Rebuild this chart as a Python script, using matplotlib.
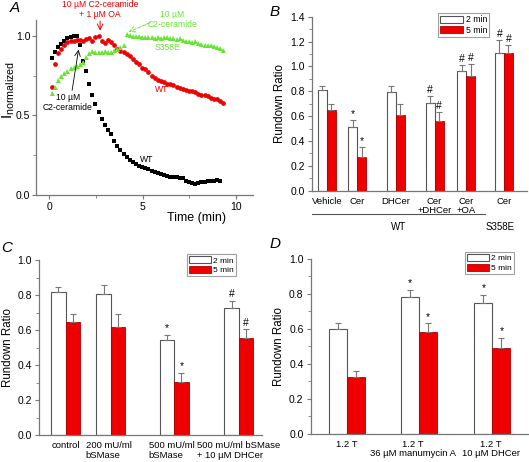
import numpy as np
import matplotlib
matplotlib.use('Agg')
import matplotlib.pyplot as plt
from matplotlib.patches import Patch
from matplotlib.transforms import blended_transform_factory

plt.rcParams['font.family'] = ['Liberation Sans', 'DejaVu Sans']
plt.rcParams['mathtext.default'] = 'regular'

# ---- panel A : normalized current, sampled every 10 s from t = 0.15 min
t_start = 0.15
t_step = 1 / 6
wt_cer = [0.86, 0.90, 0.93, 0.95, 0.97, 0.985, 0.995, 1.0, 1.0, 0.94,
          0.84, 0.78, 0.70, 0.63, 0.57, 0.52, 0.48, 0.44, 0.41, 0.38,
          0.34, 0.31, 0.28, 0.26, 0.24, 0.22, 0.21, 0.195, 0.185, 0.175,
          0.17, 0.16, 0.15, 0.145, 0.14, 0.13, 0.125, 0.12, 0.115, 0.11,
          0.11, 0.105, 0.105, 0.09, 0.08, 0.075, 0.07, 0.075, 0.08, 0.08,
          0.085, 0.09, 0.09, 0.095, 0.09]
wt_cer_oa = [0.68, 0.82, 0.89, 0.92, 0.945, 0.96, 0.965, 0.97, 0.975, 0.975,
             0.97, 0.98, 0.985, 0.97, 0.99, 1.0, 0.97, 0.955, 0.975, 0.96,
             0.94, 0.915, 0.905, 0.895, 0.885, 0.87, 0.855, 0.835, 0.82, 0.80,
             0.79, 0.77, 0.75, 0.735, 0.72, 0.715, 0.71, 0.70, 0.695, 0.69,
             0.68, 0.675, 0.665, 0.66, 0.655, 0.65, 0.645, 0.635, 0.63, 0.625,
             0.62, 0.61, 0.605, 0.60, 0.59, 0.58]
s358e_cer = [0.64, 0.68, 0.72, 0.745, 0.765, 0.78, 0.795, 0.805, 0.81, 0.82,
             0.835, 0.865, 0.89, 0.905, 0.90, 0.895, 0.90, 0.905, 0.895, 0.90,
             0.91, 0.92, 0.93, 0.94, 1.01, 1.005, 1.0, 1.0, 1.0, 0.995,
             0.99, 0.995, 0.99, 0.985, 0.99, 0.985, 0.99, 0.99, 0.985, 0.985,
             0.98, 0.985, 0.975, 0.965, 0.97, 0.96, 0.965, 0.955, 0.95, 0.945,
             0.94, 0.94, 0.935, 0.93, 0.925, 0.91]

# ---- panel B
b_labels = ['Vehicle', 'Cer', 'DHCer', 'Cer\n+DHCer', 'Cer\n+OA', 'Cer']
b_pos = [1.63, 5.0, 9.3, 13.6, 17.15, 21.3]
b_2min = [0.81, 0.51, 0.795, 0.705, 0.96, 1.11]
b_2min_err = [0.03, 0.06, 0.045, 0.055, 0.05, 0.10]
b_5min = [0.65, 0.27, 0.61, 0.565, 0.92, 1.11]
b_5min_err = [0.045, 0.08, 0.085, 0.065, 0.10, 0.06]
b_marks = ['', '*', '', '#', '#', '#']

# ---- panel C
c_labels = ['control', '200 mU/ml\nbSMase', '500 mU/ml\nbSMase',
            '500 mU/ml bSMase\n+ 10 \u00b5M DHCer']
c_pos = [1.82, 4.94, 9.31, 13.77]
c_2min = [0.815, 0.804, 0.543, 0.728]
c_2min_err = [0.033, 0.053, 0.032, 0.038]
c_5min = [0.648, 0.619, 0.305, 0.556]
c_5min_err = [0.047, 0.071, 0.051, 0.048]
c_marks = ['', '', '*', '#']

# ---- panel D
d_labels = ['1.2 T', '1.2 T\n36 \u00b5M manumycin A', '1.2 T\n10 \u00b5M DHCer']
d_pos = [2.03, 6.03, 10.1]
d_2min = [0.597, 0.779, 0.745]
d_2min_err = [0.034, 0.042, 0.048]
d_5min = [0.327, 0.58, 0.492]
d_5min_err = [0.029, 0.051, 0.054]
d_marks = ['', '*', '*']

RED = '#ee0000'
GREEN = '#66e633'
SPINE = '#777777'

fig = plt.figure(figsize=(5.29, 4.62), dpi=100)


def style(ax):
    for s in ['top', 'right']:
        ax.spines[s].set_visible(False)
    for s in ['left', 'bottom']:
        ax.spines[s].set_color(SPINE)
        ax.spines[s].set_linewidth(0.9)
    ax.tick_params(which='both', direction='out', color=SPINE, labelsize=7.5, pad=2)
    ax.tick_params(which='major', length=3)
    ax.tick_params(which='minor', length=2)


def bars(ax, pos, v2, e2, v5, e5, marks, w, xmax):
    pos = np.array(pos)
    ax.bar(pos - w / 2, v2, w, color='white', edgecolor='#555555', lw=0.8, zorder=2)
    ax.bar(pos + w / 2, v5, w, color=RED, edgecolor='#b00000', lw=0.6, zorder=2)
    ax.errorbar(pos - w / 2, v2, yerr=[np.zeros(len(v2)), e2], fmt='none',
                ecolor='#777777', elinewidth=0.8, capsize=2, capthick=0.8, zorder=3)
    ax.errorbar(pos + w / 2, v5, yerr=[np.zeros(len(v5)), e5], fmt='none',
                ecolor='#777777', elinewidth=0.8, capsize=2, capthick=0.8, zorder=3)
    for i, m in enumerate(marks):
        if m:
            ax.text(pos[i] - w / 2, v2[i] + e2[i] + 0.01, m, ha='center', va='bottom', fontsize=7.5)
            ax.text(pos[i] + w / 2, v5[i] + e5[i] + 0.01, m, ha='center', va='bottom', fontsize=7.5)
    ax.set_xlim(0, xmax)
    style(ax)
    ax.set_ylabel('Rundown Ratio', fontsize=8.3, labelpad=3)


def xlabels(ax, xs, labels, has, fs):
    ax.set_xticks([])
    tr = blended_transform_factory(ax.transData, ax.transAxes)
    for x, s, h in zip(xs, labels, has):
        ax.text(x, -0.035, s, transform=tr, ha=h, va='top', fontsize=fs,
                linespacing=1.05, multialignment=h)


def leg(ax, x, y, fs):
    h = [Patch(facecolor='white', edgecolor='#555555', lw=0.8),
         Patch(facecolor=RED, edgecolor='#b00000', lw=0.6)]
    lg = ax.legend(h, ['2 min', '5 min'], loc='upper left', bbox_to_anchor=(x, y),
                   fontsize=fs, frameon=True, fancybox=False, handlelength=2.6,
                   handleheight=0.9, handletextpad=0.3, borderpad=0.25,
                   labelspacing=0.15, borderaxespad=0)
    lg.get_frame().set_edgecolor('#888888')
    lg.get_frame().set_linewidth(0.8)


# ---------------- A
axA = fig.add_axes([0.068, 0.578, 0.410, 0.379])
tA = t_start + np.arange(len(wt_cer)) * t_step
tB = t_start + np.arange(len(wt_cer_oa)) * t_step
tC = t_start + np.arange(len(s358e_cer)) * t_step
axA.plot(tA, wt_cer, 's', color='black', ms=3, mew=0)
axA.plot(tB, wt_cer_oa, 'o', color=RED, ms=3.4, mew=0)
axA.plot(tC, s358e_cer, '^', color=GREEN, ms=3.6, mew=0)
axA.set_xlim(-0.7, 10.9)
axA.set_ylim(0, 1.1)
axA.set_xticks([0, 5, 10])
axA.set_xticks([2.5, 7.5], minor=True)
axA.set_yticks([0, 0.5, 1.0])
axA.set_yticks([0.25, 0.75], minor=True)
axA.set_yticklabels(['0.0', '0.5', '1.0'])
style(axA)
axA.tick_params(axis='y', pad=1)
axA.set_xlabel('Time (min)', fontsize=9)
axA.xaxis.set_label_coords(0.74, -0.1)
axA.set_ylabel(r'$I_{normalized}$', fontsize=11)
axA.yaxis.set_label_coords(-0.088, 0.6)

fs = 6.2
axA.text(2.73, 1.165, '10 \u00b5M C2-ceramide\n+ 1 \u00b5M OA', color=RED, fontsize=fs,
         ha='center', va='center', linespacing=1.15)
axA.annotate('', xy=(2.73, 1.015), xytext=(2.73, 1.11),
             arrowprops=dict(arrowstyle='->', color=RED, lw=0.7))
axA.text(6.6, 1.10, '10 \u00b5M\nC2-ceramide', color=GREEN, fontsize=fs,
         ha='center', va='center', linespacing=1.15)
axA.annotate('', xy=(4.12, 1.017), xytext=(5.55, 1.09),
             arrowprops=dict(arrowstyle='->', color=GREEN, lw=0.7, ls='--'))
axA.text(6.36, 0.925, 'S358E', color=GREEN, fontsize=fs, ha='center', va='center')
axA.text(6.04, 0.66, 'WT', color=RED, fontsize=fs, ha='center', va='center')
axA.text(5.24, 0.22, 'WT', color='black', fontsize=fs, ha='center', va='center')
axA.text(1.0, 0.58, '10 \u00b5M\nC2-ceramide', color='black', fontsize=fs,
         ha='center', va='center', linespacing=1.15)
axA.annotate('', xy=(1.6, 0.93), xytext=(1.21, 0.64),
             arrowprops=dict(arrowstyle='->', color='black', lw=0.6))

# ---------------- B
axB = fig.add_axes([0.590, 0.587, 0.406, 0.377])
bars(axB, b_pos, b_2min, b_2min_err, b_5min, b_5min_err, b_marks, 1.0, 23.86)
xlabels(axB, b_pos, b_labels, ['center'] * 6, 6.8)
axB.set_ylim(0, 1.4)
axB.set_yticks(np.arange(0, 1.41, 0.2))
axB.set_yticks(np.arange(0.1, 1.4, 0.2), minor=True)
axB.set_yticklabels(['%.1f' % v for v in np.arange(0, 1.41, 0.2)])
axB.plot([0, 0.805], [-0.132, -0.132], color='#555555', lw=0.8,
         transform=axB.transAxes, clip_on=False)
axB.text(0.40, -0.205, 'WT', transform=axB.transAxes, ha='center', va='center', fontsize=7)
axB.text(0.874, -0.205, 'S358E', transform=axB.transAxes, ha='center', va='center', fontsize=7)
leg(axB, 0.586, 1.02, 6.3)

# ---------------- C
axC = fig.add_axes([0.074, 0.058, 0.421, 0.379])
bars(axC, c_pos, c_2min, c_2min_err, c_5min, c_5min_err, c_marks, 1.0, 15.35)
xlabels(axC, [c_pos[0], c_pos[1] - 1.72, c_pos[2] - 1.75, c_pos[3] - 2.89], c_labels,
        ['center', 'left', 'left', 'left'], 6.8)
axC.set_ylim(0, 1.0)
axC.set_yticks(np.arange(0, 1.01, 0.2))
axC.set_yticks(np.arange(0.1, 1.0, 0.2), minor=True)
axC.set_yticklabels(['%.1f' % v for v in np.arange(0, 1.01, 0.2)])
leg(axC, 0.665, 1.034, 6)

# ---------------- D
axD = fig.add_axes([0.587, 0.061, 0.411, 0.379])
bars(axD, d_pos, d_2min, d_2min_err, d_5min, d_5min_err, d_marks, 1.0, 12.07)
xlabels(axD, [d_pos[0], d_pos[1] - 0.35, d_pos[2] - 0.1], d_labels, ['center'] * 3, 6.8)
axD.set_ylim(0, 1.0)
axD.set_yticks(np.arange(0, 1.01, 0.2))
axD.set_yticks(np.arange(0.1, 1.0, 0.2), minor=True)
axD.set_yticklabels(['%.1f' % v for v in np.arange(0, 1.01, 0.2)])
leg(axD, 0.71, 1.038, 6)

# panel letters
for x, y, s in [(0.028, 0.982, 'A'), (0.52, 0.974, 'B'), (0.013, 0.463, 'C'), (0.52, 0.472, 'D')]:
    fig.text(x, y, s, fontsize=11, style='italic', ha='center', va='center')

fig.savefig('out.png', dpi=100)
